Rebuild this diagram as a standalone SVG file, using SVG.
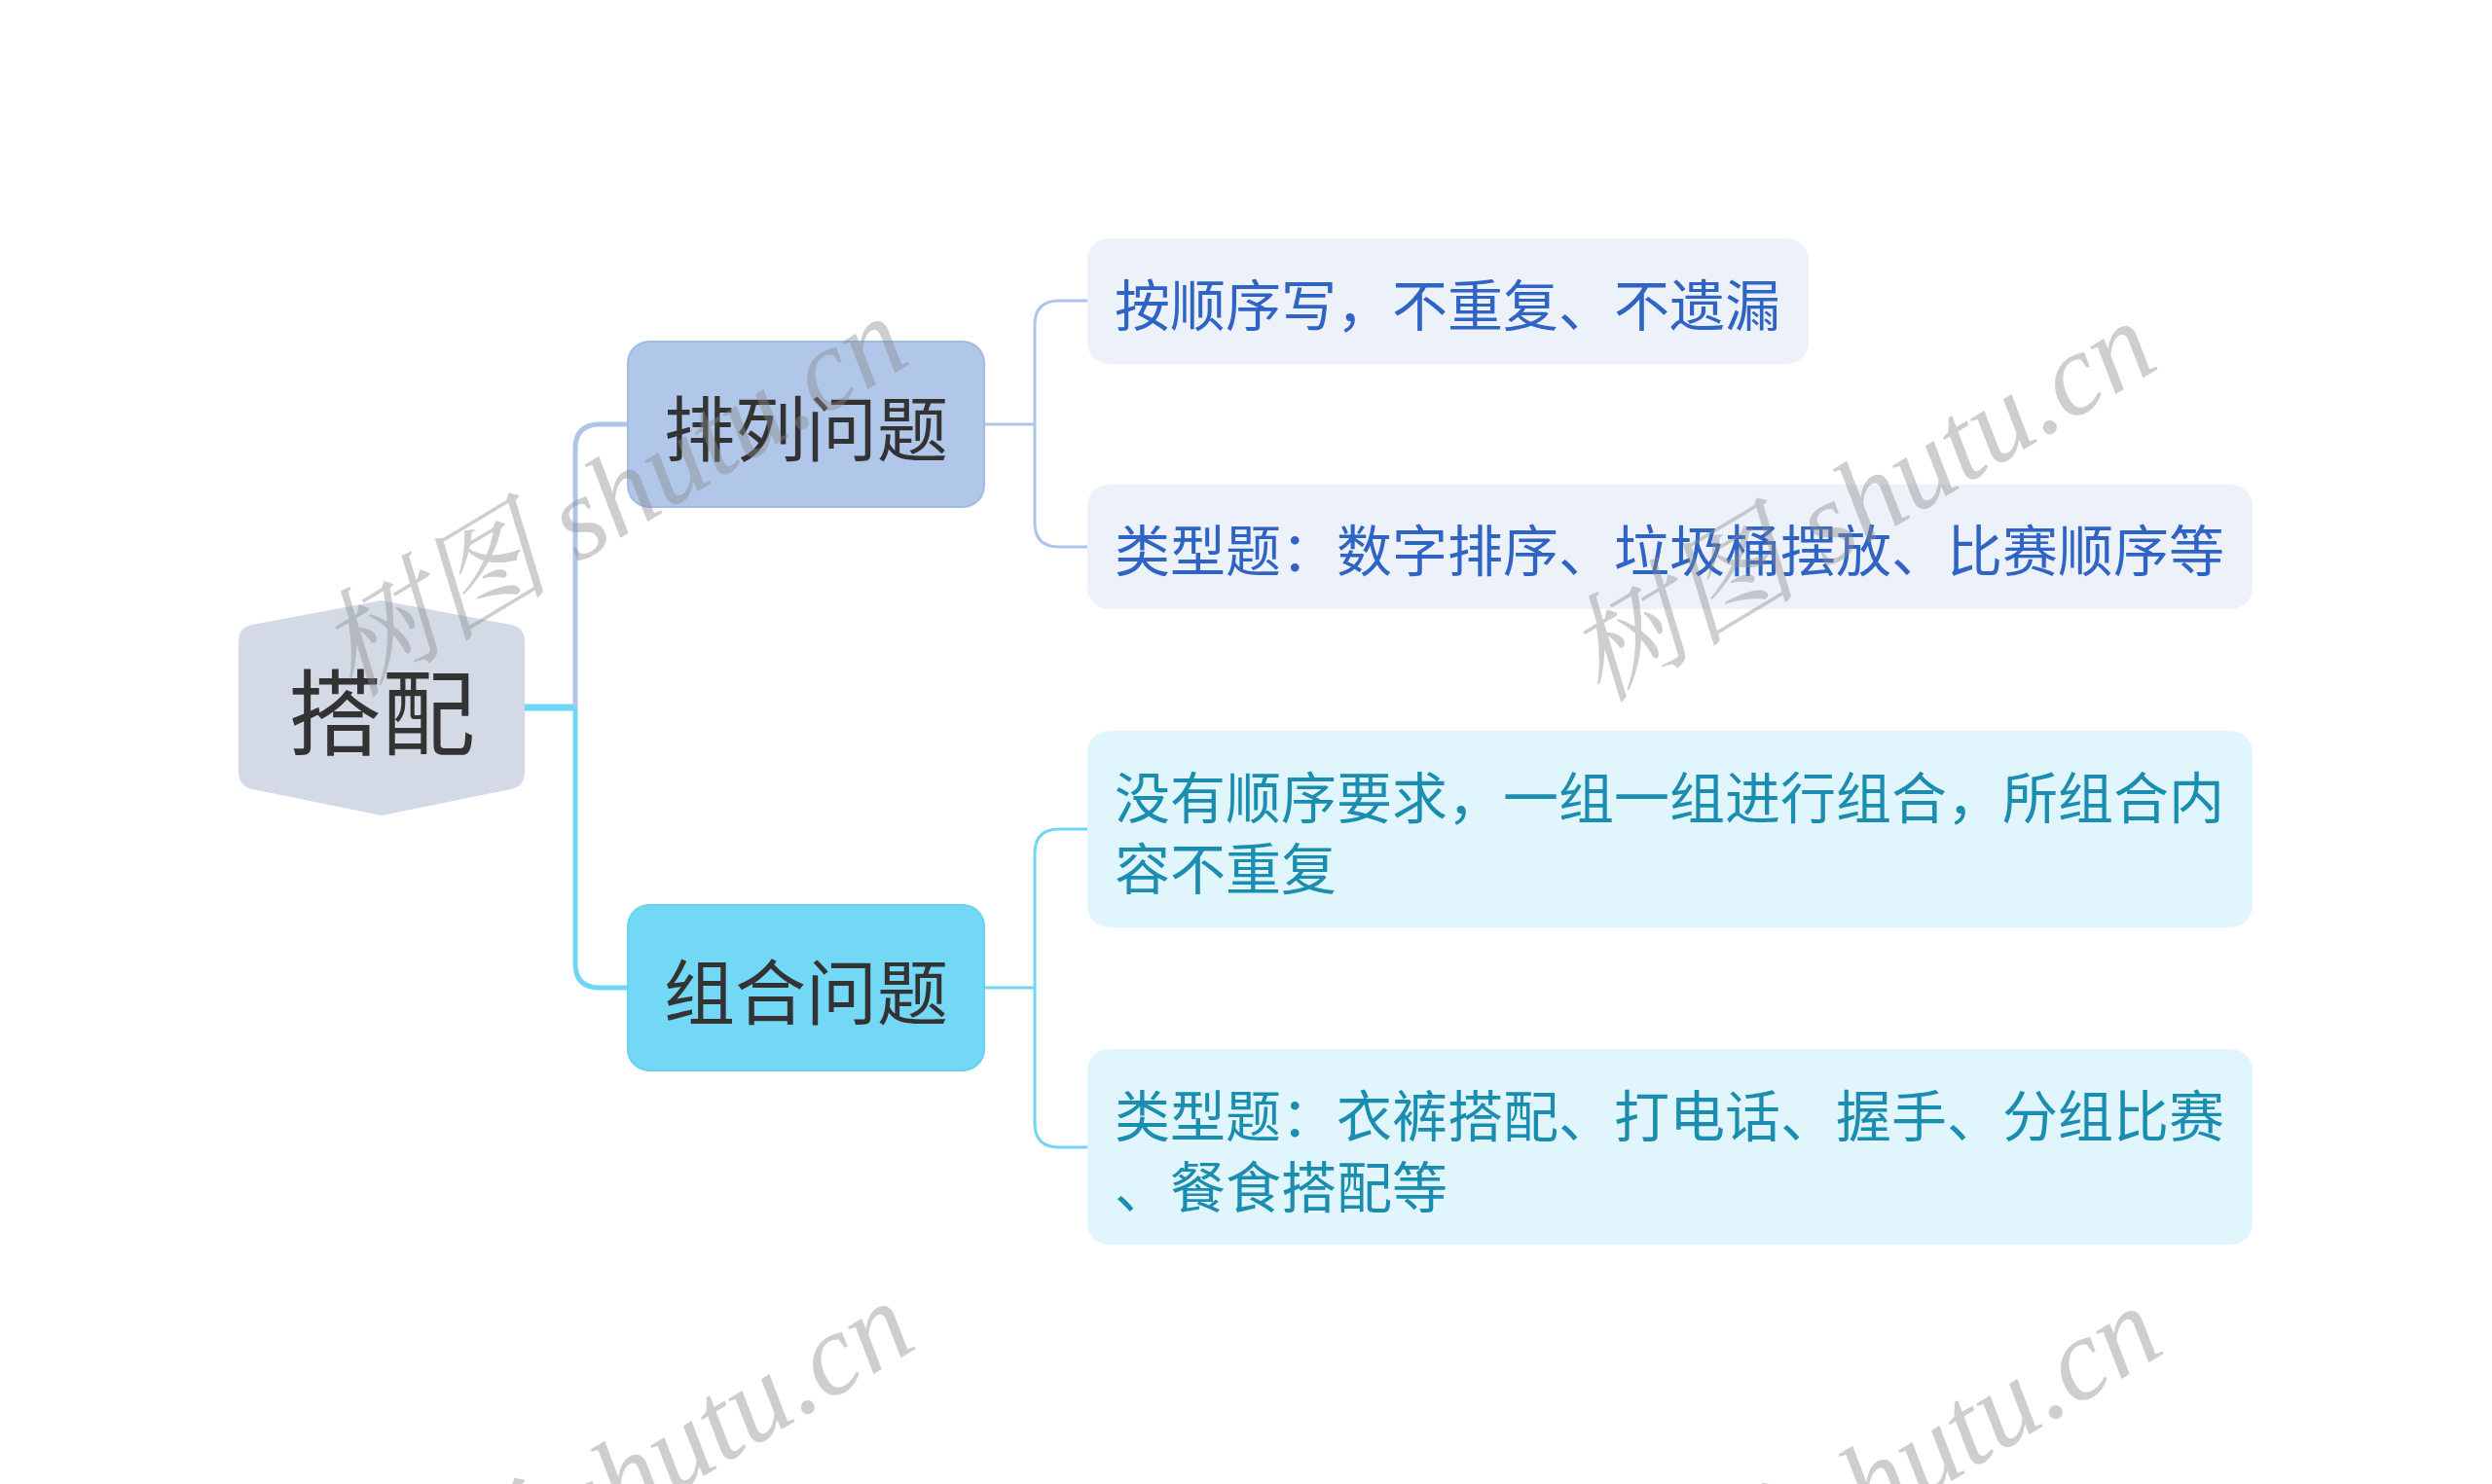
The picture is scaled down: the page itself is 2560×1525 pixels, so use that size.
<svg xmlns="http://www.w3.org/2000/svg" width="2560" height="1525" viewBox="0 0 2560 1525">
<style>
.cjk{font-family:"Noto Sans CJK SC","Noto Sans",sans-serif;}
.main{font-size:73px;fill:#333333;text-anchor:middle;dominant-baseline:central;}
.leafA{font-size:57px;fill:#2f63c4;dominant-baseline:central;}
.leafB{font-size:57px;fill:#1a8db0;dominant-baseline:central;}
.wm{font-family:"Liberation Serif","Noto Serif CJK SC","Noto Sans CJK SC",serif;font-style:italic;font-size:120px;fill:#8a8a8a;fill-opacity:0.42;}
.lnA{fill:none;stroke:#aec4e8;}
.lnB{fill:none;stroke:#6fd6f5;}
</style>
<rect width="2560" height="1525" fill="#ffffff"/>
<g id="connectors">
  <path class="lnB" d="M539 727 H591" stroke-width="7"/>
  <path class="lnA" d="M591 727 V461 Q591 436 616 436 H645" stroke-width="5"/>
  <path class="lnB" d="M591 727 V990 Q591 1015 616 1015 H645" stroke-width="5"/>
  <path class="lnA" d="M1011 436 H1063" stroke-width="3"/>
  <path class="lnA" d="M1117 309 H1088 Q1063 309 1063 334 V537 Q1063 562 1088 562 H1117" stroke-width="3"/>
  <path class="lnB" d="M1011 1015 H1063" stroke-width="3"/>
  <path class="lnB" d="M1117 852 H1088 Q1063 852 1063 877 V1154 Q1063 1179 1088 1179 H1117" stroke-width="3"/>
</g>
<g id="root">
  <path d="M392 617 L525 642 Q539 645 539 659 L539 794 Q539 808 525 811 L392 838 L259 811 Q245 808 245 794 L245 659 Q245 645 259 642 Z" fill="#d3dae6"/>
  <text class="cjk main" x="392" y="726" style="font-size:96px">搭配</text>
</g>
<g id="node-pailie">
  <rect x="645" y="351" width="366" height="170" rx="22" fill="#b0c7e9" stroke="#a3bbe2" stroke-width="2"/>
  <text class="cjk main" x="828" y="436">排列问题</text>
</g>
<g id="node-zuhe">
  <rect x="645" y="930" width="366" height="170" rx="22" fill="#72d8f5" stroke="#68d1f0" stroke-width="2"/>
  <text class="cjk main" x="828" y="1015">组合问题</text>
</g>
<g id="leaf1">
  <rect x="1117" y="245" width="741" height="129" rx="22" fill="#edf2fa"/>
  <text class="cjk leafA" x="1145" y="310">按顺序写，不重复、不遗漏</text>
</g>
<g id="leaf2">
  <rect x="1117" y="498" width="1197" height="128" rx="22" fill="#edf2fa"/>
  <text class="cjk leafA" x="1145" y="562">类型题：数字排序、垃圾桶摆放、比赛顺序等</text>
</g>
<g id="leaf3">
  <rect x="1117" y="751" width="1197" height="202" rx="22" fill="#e1f6fc"/>
  <text class="cjk leafB" x="1145" y="816">没有顺序要求，一组一组进行组合，所组合内</text>
  <text class="cjk leafB" x="1145" y="889">容不重复</text>
</g>
<g id="leaf4">
  <rect x="1117" y="1078" width="1197" height="201" rx="22" fill="#e1f6fc"/>
  <text class="cjk leafB" x="1145" y="1143">类型题：衣裤搭配、打电话、握手、分组比赛</text>
  <text class="cjk leafB" x="1145" y="1216">、餐食搭配等</text>
</g>
<g id="watermarks">
  <text class="wm" transform="translate(362 718) rotate(-31)">树图 shutu.cn</text>
  <text class="wm" transform="translate(1644 723) rotate(-31)">树图 shutu.cn</text>
  <text class="wm" transform="translate(368 1730) rotate(-31)">树图 shutu.cn</text>
  <text class="wm" transform="translate(1650 1735) rotate(-31)">树图 shutu.cn</text>
</g>
</svg>
